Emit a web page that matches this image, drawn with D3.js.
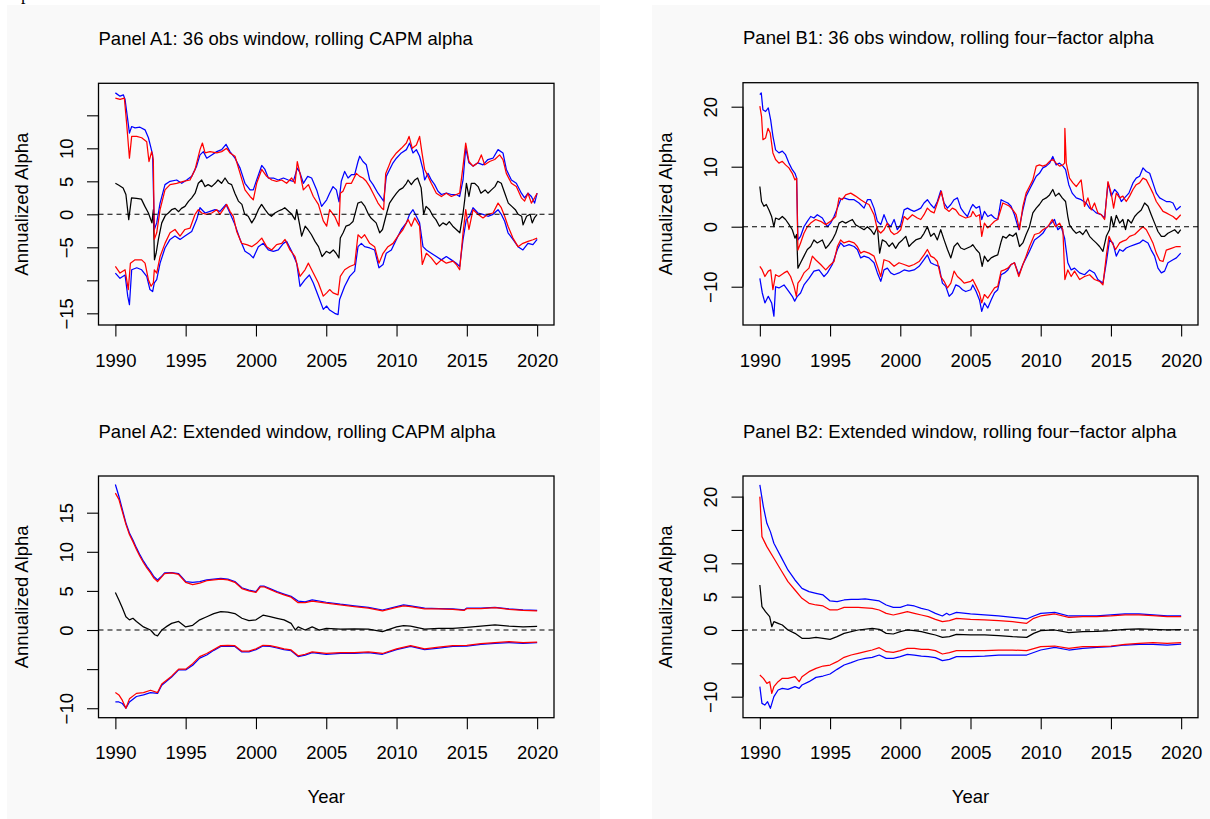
<!DOCTYPE html>
<html>
<head>
<meta charset="utf-8">
<script src="https://cdn.jsdelivr.net/npm/d3@7"></script>
<style>
  html, body { margin: 0; padding: 0; background: #ffffff; }
  svg { display: block; }
</style>
</head>
<body>
<svg id="chart" width="1210" height="819"></svg>
<script>
// ---------------- DATA ----------------
const xTickYears = [1990, 1995, 2000, 2005, 2010, 2015, 2020];
const titles = {
  A1: "Panel A1: 36 obs window, rolling CAPM alpha",
  B1: "Panel B1: 36 obs window, rolling four\u2212factor alpha",
  A2: "Panel A2: Extended window, rolling CAPM alpha",
  B2: "Panel B2: Extended window, rolling four\u2212factor alpha"
};
const yAxisTitle = "Annualized Alpha";
const xAxisTitle = "Year";

const yTicksA1 = [15, 10, 5, 0, -5, -10, -15];
const yLabelsA1 = [10, 5, 0, -5, -15];
const yTicksB1 = [20, 10, 0, -10];
const yLabelsB1 = [20, 10, 0, -10];
const yTicksA2 = [15, 10, 5, 0, -5, -10];
const yLabelsA2 = [15, 10, 5, 0, -10];
const yTicksB2 = [20, 15, 10, 5, 0, -5, -10];
const yLabelsB2 = [20, 10, 5, 0, -10];

// Panel A1 (36 obs window, CAPM) [year, annualized alpha]
const a1Black = [[1990.0,4.7],[1990.25,4.4],[1990.55,4.0],[1990.75,3.0],[1990.95,-0.8],[1991.15,2.5],[1991.5,2.4],[1991.85,2.3],[1992.1,1.2],[1992.35,0.2],[1992.6,-1.3],[1992.7,0.7],[1992.78,-6.9],[1992.9,-5.9],[1993.06,-3.8],[1993.3,-1.3],[1993.55,-0.2],[1993.77,0.2],[1994.0,0.7],[1994.25,0.9],[1994.5,0.4],[1994.7,0.9],[1994.95,1.2],[1995.2,1.95],[1995.43,2.5],[1995.67,3.2],[1995.9,4.7],[1996.14,5.2],[1996.38,4.2],[1996.6,4.5],[1996.85,4.2],[1997.1,4.7],[1997.3,5.2],[1997.55,4.7],[1997.8,5.5],[1998.05,4.7],[1998.27,4.5],[1998.5,3.2],[1998.75,2.0],[1999.0,1.5],[1999.2,0],[1999.45,-0.3],[1999.7,-1.3],[1999.93,-0.5],[2000.17,0.7],[2000.4,1.5],[2000.65,0.7],[2000.9,0],[2001.1,-0.3],[2001.35,0.2],[2001.6,0.5],[2001.83,0.7],[2002.05,1.0],[2002.3,0.5],[2002.55,0],[2002.78,-0.8],[2002.9,0.7],[2003.1,-1.5],[2003.25,-3.3],[2003.5,-1.8],[2003.7,-2.3],[2003.95,-3.1],[2004.2,-4.1],[2004.45,-4.9],[2004.7,-6.4],[2004.9,-5.9],[2005.0,-5.6],[2005.25,-5.9],[2005.5,-5.4],[2005.7,-5.9],[2005.9,-6.6],[2006.0,-3.6],[2006.2,-2.8],[2006.4,-1.8],[2006.65,-1.6],[2006.9,-1.1],[2007.25,1.7],[2007.5,1.9],[2007.75,1.2],[2008.0,0],[2008.2,-0.6],[2008.55,-1.3],[2008.8,-2.8],[2009.0,-2.3],[2009.3,0.2],[2009.5,1.7],[2009.75,2.5],[2010.0,3.2],[2010.2,3.7],[2010.45,4.0],[2010.7,4.7],[2010.82,5.2],[2011.05,4.5],[2011.3,5.2],[2011.5,5.5],[2011.75,4.0],[2011.93,0],[2012.1,1.2],[2012.35,0.7],[2012.6,-0.3],[2012.8,-0.8],[2013.05,-1.8],[2013.3,-1.3],[2013.55,-1.6],[2013.75,-1.1],[2014.0,-1.8],[2014.25,-2.3],[2014.5,-2.8],[2014.72,0],[2014.85,2.2],[2014.97,4.7],[2015.15,2.7],[2015.32,4.7],[2015.55,4.7],[2015.8,4.2],[2016.0,3.2],[2016.3,3.7],[2016.5,3.2],[2016.75,3.7],[2017.0,4.2],[2017.2,5.0],[2017.45,4.7],[2017.7,3.2],[2017.95,1.7],[2018.2,1.2],[2018.45,0.7],[2018.65,0],[2018.9,-0.3],[2019.0,-1.6],[2019.25,-0.3],[2019.5,0],[2019.65,-1.3],[2019.82,-0.5],[2020.0,0]];
const a1BlueUpper = [[1990.0,18.4],[1990.33,17.9],[1990.57,18.1],[1990.69,17.4],[1990.88,14.3],[1991.0,12.3],[1991.16,13.3],[1991.4,13.1],[1991.75,13.2],[1992.11,12.8],[1992.35,11.6],[1992.54,10.0],[1992.65,9.0],[1992.77,-2.3],[1992.94,-1.3],[1993.18,1.7],[1993.53,4.5],[1993.89,5.0],[1994.36,5.2],[1994.72,4.7],[1995.07,5.2],[1995.43,5.75],[1995.78,7.3],[1996.02,9.0],[1996.26,9.5],[1996.5,8.5],[1996.85,9.0],[1997.21,9.5],[1997.56,9.8],[1997.87,10.6],[1998.15,9.5],[1998.51,8.5],[1998.87,7.0],[1999.22,4.7],[1999.58,3.7],[1999.81,3.7],[2000.05,5.2],[2000.41,7.4],[2000.64,6.8],[2000.88,5.5],[2001.24,5.5],[2001.59,5.2],[2001.95,5.5],[2002.3,5.2],[2002.66,5.0],[2002.94,7.0],[2003.13,6.3],[2003.37,4.7],[2003.68,5.75],[2003.96,5.5],[2004.32,3.7],[2004.67,1.2],[2005.03,2.2],[2005.24,3.2],[2005.48,4.2],[2005.72,3.7],[2005.91,1.9],[2006.07,5.0],[2006.31,6.5],[2006.55,5.5],[2006.79,6.0],[2007.02,6.0],[2007.26,8.0],[2007.38,8.8],[2007.61,8.0],[2007.85,7.5],[2008.09,5.2],[2008.33,4.5],[2008.68,3.2],[2008.92,2.5],[2009.08,2.0],[2009.27,5.75],[2009.51,6.8],[2009.75,7.8],[2009.99,8.5],[2010.34,9.3],[2010.7,9.8],[2010.93,10.8],[2011.17,9.3],[2011.41,9.8],[2011.64,8.8],[2011.88,6.8],[2012.0,5.2],[2012.24,6.2],[2012.47,5.2],[2012.71,4.5],[2012.95,3.5],[2013.19,3.0],[2013.54,3.2],[2013.9,3.0],[2014.25,3.0],[2014.49,2.7],[2014.73,5.2],[2014.92,10.0],[2015.15,7.8],[2015.44,7.3],[2015.79,7.8],[2016.15,7.5],[2016.5,8.3],[2016.86,8.5],[2017.22,9.8],[2017.57,9.3],[2017.81,6.8],[2018.17,5.2],[2018.52,4.7],[2018.88,3.2],[2019.11,2.5],[2019.35,3.2],[2019.59,2.7],[2019.82,1.7],[2020.0,3.2]];
const a1RedUpper = [[1990.0,17.6],[1990.33,17.4],[1990.64,17.6],[1990.8,13.8],[1991.0,8.5],[1991.16,11.8],[1991.52,11.8],[1991.87,11.6],[1992.23,11.0],[1992.39,8.0],[1992.58,9.5],[1992.7,8.3],[1992.77,-3.8],[1992.94,-2.8],[1993.18,0.7],[1993.53,3.7],[1993.89,4.5],[1994.36,4.7],[1994.84,5.0],[1995.31,5.2],[1995.67,6.8],[1996.02,9.8],[1996.19,10.8],[1996.38,9.3],[1996.73,9.5],[1997.21,9.3],[1997.56,9.5],[1997.92,10.0],[1998.15,9.3],[1998.51,8.8],[1998.87,6.2],[1999.22,3.7],[1999.58,2.7],[1999.81,2.2],[2000.05,4.7],[2000.41,6.8],[2000.76,5.75],[2001.12,5.2],[2001.47,5.0],[2001.83,5.2],[2002.18,4.7],[2002.54,5.5],[2002.78,4.7],[2002.94,8.0],[2003.13,6.2],[2003.37,3.7],[2003.73,4.5],[2004.08,2.7],[2004.44,1.5],[2004.79,-1.0],[2005.03,-1.8],[2005.24,0.7],[2005.6,-0.3],[2005.91,-1.8],[2006.0,3.2],[2006.19,3.5],[2006.43,4.7],[2006.79,4.7],[2007.14,6.2],[2007.38,5.75],[2007.61,5.5],[2007.85,5.0],[2008.09,4.2],[2008.33,3.2],[2008.68,1.7],[2008.92,1.0],[2009.08,0.7],[2009.23,6.2],[2009.39,7.0],[2009.63,8.3],[2009.99,9.3],[2010.34,10.0],[2010.7,10.8],[2010.89,11.8],[2011.12,10.0],[2011.41,10.5],[2011.64,11.8],[2011.81,9.3],[2012.0,6.8],[2012.24,5.75],[2012.47,4.7],[2012.83,3.2],[2013.19,2.7],[2013.54,3.2],[2013.9,2.7],[2014.25,3.0],[2014.49,3.2],[2014.73,7.3],[2014.92,10.8],[2015.15,8.0],[2015.44,7.3],[2015.79,7.8],[2016.03,9.0],[2016.27,7.5],[2016.62,8.0],[2016.98,8.3],[2017.33,9.0],[2017.57,8.3],[2017.81,6.2],[2018.17,4.7],[2018.52,4.2],[2018.88,2.5],[2019.11,2.0],[2019.35,3.2],[2019.59,1.7],[2019.82,2.5],[2020.0,3.2]];
const a1RedLower = [[1990.0,-7.9],[1990.33,-8.9],[1990.69,-8.4],[1990.92,-11.4],[1991.07,-7.4],[1991.4,-6.9],[1991.87,-6.9],[1992.11,-7.4],[1992.35,-9.9],[1992.54,-10.9],[1992.7,-10.4],[1992.77,-8.4],[1992.94,-8.9],[1993.18,-6.4],[1993.53,-4.4],[1993.89,-2.8],[1994.24,-2.3],[1994.6,-3.3],[1994.95,-2.3],[1995.31,-2.1],[1995.67,0],[1995.9,0.7],[1996.14,0.2],[1996.5,0],[1996.85,0.2],[1997.21,0.7],[1997.44,0],[1997.92,1.5],[1998.15,0.45],[1998.39,-0.3],[1998.63,-2.6],[1998.98,-4.4],[1999.34,-4.6],[1999.7,-4.9],[2000.05,-4.4],[2000.41,-3.6],[2000.76,-4.9],[2001.12,-5.4],[2001.47,-4.6],[2001.83,-4.4],[2002.07,-3.8],[2002.42,-5.4],[2002.78,-6.4],[2003.13,-9.4],[2003.49,-8.4],[2003.73,-7.4],[2004.08,-8.9],[2004.44,-10.4],[2004.79,-12.4],[2005.03,-11.9],[2005.24,-11.4],[2005.48,-11.9],[2005.84,-12.2],[2006.0,-9.4],[2006.31,-8.4],[2006.67,-7.9],[2007.02,-7.6],[2007.26,-3.1],[2007.5,-3.6],[2007.73,-3.1],[2008.09,-4.4],[2008.44,-4.9],[2008.75,-7.4],[2009.04,-5.9],[2009.39,-4.9],[2009.75,-4.4],[2010.1,-3.3],[2010.46,-2.3],[2010.82,-0.8],[2011.05,-1.8],[2011.29,-0.55],[2011.64,-1.8],[2011.83,-7.6],[2012.12,-5.9],[2012.47,-6.6],[2012.83,-7.6],[2013.19,-6.9],[2013.54,-7.4],[2014.02,-7.1],[2014.25,-7.6],[2014.49,-8.4],[2014.73,-2.8],[2014.92,0.7],[2015.15,-2.3],[2015.44,0.7],[2015.79,0],[2016.15,-0.55],[2016.5,0],[2016.86,0.2],[2017.22,1.7],[2017.45,1.0],[2017.69,-0.3],[2017.93,-1.8],[2018.28,-3.6],[2018.64,-4.9],[2018.99,-4.4],[2019.35,-4.1],[2019.7,-3.85],[2020.0,-3.6]];
const a1BlueLower = [[1990.0,-8.9],[1990.33,-9.7],[1990.69,-9.2],[1990.88,-12.4],[1991.0,-13.7],[1991.16,-8.4],[1991.52,-8.1],[1991.87,-8.4],[1992.23,-9.4],[1992.46,-11.4],[1992.65,-11.7],[1992.77,-10.4],[1992.94,-9.9],[1993.18,-7.4],[1993.53,-5.1],[1993.89,-3.8],[1994.24,-3.3],[1994.6,-3.8],[1994.95,-3.3],[1995.43,-2.6],[1995.78,-0.8],[1996.02,1.0],[1996.38,0.2],[1996.73,0.45],[1997.09,0.7],[1997.44,0.45],[1997.87,1.5],[1998.15,0.2],[1998.51,-1.6],[1998.87,-3.8],[1999.22,-5.6],[1999.58,-6.1],[1999.81,-6.6],[2000.17,-4.9],[2000.52,-4.4],[2000.88,-5.4],[2001.24,-5.6],[2001.59,-5.4],[2001.95,-4.4],[2002.18,-4.1],[2002.54,-5.6],[2002.9,-7.4],[2003.13,-10.9],[2003.49,-9.9],[2003.8,-9.2],[2004.08,-10.4],[2004.44,-12.4],[2004.79,-14.4],[2005.03,-13.9],[2005.24,-14.5],[2005.6,-15.0],[2005.84,-15.2],[2005.95,-12.9],[2006.31,-10.9],[2006.67,-9.4],[2007.02,-8.6],[2007.26,-4.9],[2007.5,-4.4],[2007.73,-4.9],[2008.09,-5.1],[2008.44,-5.4],[2008.75,-8.1],[2009.04,-7.6],[2009.27,-5.9],[2009.63,-5.4],[2009.99,-3.8],[2010.34,-2.3],[2010.7,-1.3],[2010.93,0],[2011.17,0.7],[2011.41,-0.3],[2011.64,-1.3],[2011.88,-4.9],[2012.12,-5.4],[2012.47,-5.9],[2012.83,-6.4],[2013.19,-6.9],[2013.54,-6.4],[2013.9,-6.9],[2014.25,-7.4],[2014.49,-7.9],[2014.73,-3.8],[2014.96,-0.8],[2015.2,-0.3],[2015.44,1.0],[2015.79,0.2],[2016.15,0],[2016.5,-0.3],[2016.86,0],[2017.22,0.7],[2017.45,0],[2017.69,-1.05],[2017.93,-2.8],[2018.28,-3.8],[2018.64,-4.9],[2018.99,-5.4],[2019.35,-4.4],[2019.7,-4.6],[2020.0,-3.8]];

// Panel B1 (36 obs window, four-factor)
const b1Black = [[1990.0,6.7],[1990.12,4.2],[1990.29,3.4],[1990.46,3.7],[1990.65,2.8],[1990.84,1.7],[1991.0,0],[1991.12,1.45],[1991.36,1.2],[1991.6,1.7],[1991.83,1.2],[1992.07,0.4],[1992.31,-0.5],[1992.5,-1.9],[1992.62,-1.3],[1992.71,-6.9],[1992.9,-6.0],[1993.14,-4.9],[1993.38,-3.8],[1993.62,-3.3],[1993.85,-2.2],[1994.09,-2.7],[1994.45,-2.2],[1994.69,-3.6],[1994.92,-3.0],[1995.16,-2.2],[1995.4,-1.1],[1995.64,0.6],[1995.87,0.9],[1996.11,0.6],[1996.35,0.9],[1996.59,1.2],[1996.82,0.3],[1997.06,0],[1997.42,-0.5],[1997.66,0],[1997.89,-0.5],[1998.13,-1.3],[1998.37,0],[1998.53,-4.4],[1998.72,-2.2],[1998.96,-2.5],[1999.2,-3.3],[1999.44,-2.7],[1999.67,-3.6],[1999.91,-2.7],[2000.15,-2.2],[2000.39,-1.6],[2000.62,-3.3],[2000.86,-2.7],[2001.1,-2.2],[2001.46,-1.9],[2001.69,-1.1],[2001.93,0],[2002.17,-1.6],[2002.41,-1.1],[2002.64,-2.2],[2002.88,-0.5],[2003.12,-2.2],[2003.36,-3.8],[2003.6,-5.2],[2003.83,-3.3],[2004.07,-2.7],[2004.31,-3.55],[2004.55,-3.8],[2004.78,-3.55],[2005.02,-3.3],[2005.16,-3.0],[2005.4,-3.8],[2005.64,-4.4],[2005.83,-6.6],[2005.99,-4.9],[2006.23,-5.8],[2006.47,-5.2],[2006.71,-4.9],[2006.94,-4.7],[2007.18,-2.5],[2007.3,-1.6],[2007.54,-1.9],[2007.78,-1.3],[2008.01,-1.6],[2008.25,-1.05],[2008.49,-3.3],[2008.73,-2.7],[2008.96,-1.3],[2009.2,0],[2009.44,2.3],[2009.68,3.1],[2009.91,3.7],[2010.15,4.5],[2010.39,4.8],[2010.63,5.3],[2010.86,6.2],[2011.05,5.1],[2011.29,5.6],[2011.53,4.8],[2011.77,4.2],[2011.93,1.7],[2012.05,0.3],[2012.29,-0.5],[2012.53,-1.1],[2012.77,-0.8],[2013.0,-1.3],[2013.24,-0.5],[2013.48,-1.6],[2013.72,-2.2],[2013.95,-2.7],[2014.19,-3.3],[2014.43,-4.1],[2014.67,-1.6],[2014.9,-0.5],[2015.02,1.7],[2015.19,0],[2015.38,1.9],[2015.62,0.6],[2015.85,1.2],[2016.04,-0.5],[2016.21,1.2],[2016.45,0.6],[2016.69,1.7],[2016.92,2.3],[2017.16,2.8],[2017.4,3.95],[2017.64,3.4],[2017.87,2.0],[2018.11,0.6],[2018.35,-0.8],[2018.59,-1.6],[2018.82,-1.6],[2019.06,-1.1],[2019.3,-0.8],[2019.54,-0.5],[2019.78,-1.1],[2019.97,-0.5]];
const b1BlueUpper = [[1990.0,22.0],[1990.1,22.3],[1990.22,19.5],[1990.41,19.2],[1990.6,19.8],[1990.77,17.8],[1990.93,15.1],[1991.12,12.8],[1991.36,12.3],[1991.6,12.6],[1991.83,12.0],[1992.07,10.6],[1992.31,9.5],[1992.5,8.9],[1992.62,8.1],[1992.71,-2.2],[1992.9,-1.6],[1993.14,0],[1993.38,0.9],[1993.62,1.7],[1993.85,1.45],[1994.09,2.0],[1994.45,1.45],[1994.81,0],[1995.04,0.6],[1995.28,1.7],[1995.52,3.1],[1995.75,4.5],[1995.99,4.8],[1996.35,4.5],[1996.71,4.5],[1997.06,3.95],[1997.42,3.1],[1997.66,4.5],[1997.89,4.5],[1998.13,3.1],[1998.37,0.9],[1998.61,0.35],[1998.84,2.0],[1999.08,0.6],[1999.32,0],[1999.56,1.2],[1999.79,-0.5],[2000.03,0.35],[2000.27,2.8],[2000.51,3.1],[2000.74,2.8],[2000.98,2.55],[2001.22,2.8],[2001.46,3.1],[2001.69,3.95],[2001.93,4.5],[2002.17,3.7],[2002.41,3.1],[2002.64,4.2],[2002.88,6.0],[2003.12,3.95],[2003.36,3.1],[2003.6,3.7],[2003.83,4.5],[2004.07,4.8],[2004.31,3.1],[2004.55,2.3],[2004.78,1.7],[2005.02,3.1],[2005.16,3.7],[2005.4,3.1],[2005.64,3.4],[2005.8,1.2],[2005.99,2.55],[2006.23,1.7],[2006.47,2.0],[2006.71,1.45],[2006.94,1.2],[2007.18,4.5],[2007.42,4.2],[2007.66,3.95],[2007.89,3.4],[2008.13,2.0],[2008.44,-0.5],[2008.73,2.8],[2008.96,5.1],[2009.2,6.2],[2009.44,7.3],[2009.68,8.4],[2009.91,8.9],[2010.15,9.8],[2010.39,10.1],[2010.63,10.6],[2010.86,11.7],[2011.1,10.3],[2011.34,10.6],[2011.58,10.1],[2011.77,9.5],[2012.0,7.0],[2012.24,5.6],[2012.53,4.8],[2012.88,4.5],[2013.24,3.95],[2013.48,3.1],[2013.72,2.8],[2013.95,2.3],[2014.31,2.0],[2014.55,1.45],[2014.79,7.3],[2015.02,5.1],[2015.26,6.2],[2015.5,5.6],[2015.74,4.2],[2015.97,4.8],[2016.28,5.6],[2016.57,7.3],[2016.8,8.1],[2017.04,8.4],[2017.28,9.8],[2017.52,9.2],[2017.76,8.9],[2017.99,7.3],[2018.23,5.6],[2018.47,4.8],[2018.71,4.5],[2018.94,4.2],[2019.18,4.2],[2019.42,3.95],[2019.66,2.8],[2019.97,3.4]];
const b1RedUpper = [[1990.0,20.1],[1990.12,18.4],[1990.22,14.5],[1990.41,14.8],[1990.58,16.4],[1990.74,15.6],[1990.93,12.3],[1991.12,11.2],[1991.36,10.6],[1991.6,10.9],[1991.83,10.3],[1992.07,9.8],[1992.31,8.9],[1992.5,7.8],[1992.62,8.1],[1992.71,-3.9],[1992.9,-2.7],[1993.14,-1.1],[1993.38,0],[1993.62,0.6],[1993.97,1.2],[1994.33,0.9],[1994.69,0.35],[1995.04,0.9],[1995.4,1.7],[1995.64,4.8],[1995.87,4.5],[1996.11,5.3],[1996.47,5.6],[1996.82,5.1],[1997.18,4.5],[1997.54,3.95],[1997.77,3.7],[1998.13,2.0],[1998.37,-0.5],[1998.61,-1.05],[1998.84,-0.5],[1999.08,0.6],[1999.32,-0.8],[1999.56,-1.3],[1999.79,-1.05],[2000.03,-0.5],[2000.27,1.7],[2000.51,1.2],[2000.86,2.0],[2001.22,1.45],[2001.46,1.2],[2001.69,2.0],[2001.93,3.1],[2002.17,2.55],[2002.41,2.3],[2002.64,3.95],[2002.93,5.9],[2003.17,3.1],[2003.48,2.55],[2003.71,3.1],[2003.95,2.8],[2004.19,2.0],[2004.43,1.7],[2004.66,1.45],[2005.02,1.7],[2005.16,2.55],[2005.4,1.7],[2005.64,2.0],[2005.8,-1.6],[2005.99,0.6],[2006.23,-0.2],[2006.47,0.35],[2006.71,0.9],[2006.94,1.2],[2007.3,3.95],[2007.54,3.7],[2007.78,3.4],[2008.01,2.8],[2008.25,2.0],[2008.49,-0.5],[2008.73,3.4],[2008.96,5.6],[2009.2,6.7],[2009.44,7.8],[2009.68,10.1],[2009.91,10.3],[2010.15,10.1],[2010.39,10.3],[2010.63,10.9],[2010.86,11.2],[2011.1,10.6],[2011.34,10.1],[2011.58,10.3],[2011.7,10.6],[2011.72,16.4],[2011.82,10.6],[2012.05,8.1],[2012.29,7.3],[2012.53,6.7],[2012.88,7.8],[2013.12,3.4],[2013.36,4.8],[2013.6,2.8],[2013.83,3.95],[2014.07,2.3],[2014.31,2.0],[2014.55,1.2],[2014.79,7.5],[2015.02,5.6],[2015.19,3.1],[2015.38,5.6],[2015.62,4.8],[2015.85,5.1],[2016.09,4.2],[2016.33,5.1],[2016.57,6.2],[2016.8,7.0],[2017.04,7.3],[2017.28,8.1],[2017.52,7.8],[2017.76,6.7],[2017.99,5.6],[2018.23,4.2],[2018.47,3.4],[2018.71,2.55],[2018.94,2.3],[2019.18,2.0],[2019.42,1.7],[2019.66,1.2],[2019.97,2.0]];
const b1BlueLower = [[1990.0,-8.6],[1990.17,-11.0],[1990.36,-12.7],[1990.6,-11.6],[1990.84,-12.7],[1991.0,-14.9],[1991.12,-10.0],[1991.36,-10.2],[1991.72,-9.7],[1992.07,-10.8],[1992.31,-11.6],[1992.48,-12.4],[1992.67,-11.6],[1992.9,-11.05],[1993.14,-9.7],[1993.5,-8.6],[1993.85,-7.4],[1994.21,-7.2],[1994.57,-8.3],[1994.81,-7.7],[1995.16,-6.3],[1995.52,-3.8],[1995.75,-2.7],[1995.99,-3.3],[1996.35,-3.0],[1996.71,-3.3],[1996.94,-3.8],[1997.18,-5.2],[1997.42,-4.9],[1997.77,-5.2],[1998.13,-6.0],[1998.37,-7.7],[1998.61,-9.1],[1998.84,-7.2],[1999.08,-6.9],[1999.32,-7.7],[1999.56,-8.0],[1999.91,-7.7],[2000.27,-7.2],[2000.62,-7.4],[2000.98,-7.2],[2001.34,-6.6],[2001.69,-5.5],[2001.93,-4.7],[2002.17,-6.0],[2002.41,-6.3],[2002.76,-6.6],[2003.0,-9.4],[2003.24,-9.95],[2003.48,-11.6],[2003.71,-11.05],[2003.95,-9.7],[2004.19,-9.95],[2004.43,-10.5],[2004.66,-10.8],[2005.02,-10.5],[2005.16,-9.7],[2005.4,-10.8],[2005.64,-12.2],[2005.8,-14.1],[2005.99,-12.7],[2006.23,-13.55],[2006.47,-12.2],[2006.71,-11.0],[2006.94,-10.5],[2007.18,-8.0],[2007.42,-7.7],[2007.66,-7.2],[2007.89,-6.3],[2008.13,-6.0],[2008.44,-8.0],[2008.73,-6.3],[2008.96,-5.2],[2009.2,-4.1],[2009.56,-2.2],[2009.91,-1.6],[2010.15,-1.1],[2010.39,-0.2],[2010.75,0.6],[2010.98,1.2],[2011.22,-0.5],[2011.46,0],[2011.7,-1.9],[2011.93,-6.0],[2012.17,-7.2],[2012.41,-6.9],[2012.77,-7.7],[2013.12,-8.0],[2013.48,-7.2],[2013.83,-7.7],[2014.07,-8.8],[2014.43,-9.4],[2014.67,-6.0],[2014.9,-2.2],[2015.14,-2.7],[2015.38,-4.9],[2015.62,-3.8],[2015.85,-4.1],[2016.09,-3.55],[2016.33,-3.3],[2016.69,-3.0],[2017.04,-2.7],[2017.28,-2.2],[2017.64,-2.7],[2017.87,-3.9],[2018.11,-4.9],[2018.35,-6.9],[2018.59,-7.7],[2018.82,-7.4],[2019.06,-6.0],[2019.42,-5.5],[2019.66,-5.2],[2019.97,-4.4]];
const b1RedLower = [[1990.0,-6.6],[1990.17,-7.2],[1990.36,-8.3],[1990.6,-7.4],[1990.77,-7.2],[1990.93,-10.5],[1991.12,-8.0],[1991.36,-8.3],[1991.72,-7.7],[1991.95,-7.4],[1992.19,-8.3],[1992.43,-9.9],[1992.6,-11.6],[1992.71,-9.4],[1992.9,-8.8],[1993.14,-7.7],[1993.5,-6.9],[1993.74,-4.9],[1993.97,-5.5],[1994.33,-6.3],[1994.69,-7.2],[1994.92,-6.6],[1995.28,-5.8],[1995.52,-3.3],[1995.75,-2.2],[1995.99,-2.7],[1996.35,-2.4],[1996.71,-2.7],[1996.94,-3.3],[1997.18,-4.4],[1997.42,-4.1],[1997.77,-4.4],[1998.13,-4.9],[1998.37,-6.6],[1998.61,-8.3],[1998.84,-5.5],[1999.2,-5.8],[1999.56,-6.6],[1999.91,-6.0],[2000.27,-6.3],[2000.62,-6.6],[2000.98,-6.3],[2001.34,-5.8],[2001.69,-4.7],[2001.93,-3.8],[2002.17,-4.9],[2002.41,-5.2],[2002.64,-5.8],[2002.88,-8.3],[2003.12,-9.1],[2003.36,-10.2],[2003.6,-9.4],[2003.83,-7.4],[2004.07,-8.3],[2004.31,-8.8],[2004.55,-9.4],[2005.02,-9.1],[2005.16,-8.8],[2005.4,-9.9],[2005.64,-11.1],[2005.8,-12.7],[2005.99,-11.3],[2006.23,-11.9],[2006.47,-11.05],[2006.71,-10.2],[2006.94,-9.95],[2007.18,-7.4],[2007.42,-7.2],[2007.66,-6.9],[2007.89,-6.3],[2008.13,-6.0],[2008.44,-8.3],[2008.73,-6.3],[2008.96,-4.9],[2009.2,-3.3],[2009.56,-1.3],[2009.91,-1.05],[2010.15,-0.5],[2010.51,0],[2010.82,1.2],[2011.05,0],[2011.34,0.6],[2011.58,-0.5],[2011.72,-8.8],[2011.93,-7.2],[2012.17,-8.3],[2012.41,-7.4],[2012.77,-8.8],[2013.12,-8.3],[2013.48,-8.0],[2013.83,-8.8],[2014.19,-9.1],[2014.43,-9.7],[2014.67,-4.9],[2014.86,-1.6],[2015.09,-2.7],[2015.33,-3.8],[2015.62,-2.7],[2015.85,-2.4],[2016.09,-2.2],[2016.33,-1.6],[2016.69,-1.3],[2017.04,-0.5],[2017.28,0],[2017.52,-0.5],[2017.76,-1.6],[2017.99,-2.7],[2018.23,-4.4],[2018.47,-5.6],[2018.71,-5.8],[2018.94,-3.9],[2019.3,-3.6],[2019.66,-3.3],[2019.97,-3.3]];

// Panel A2 (extended window, CAPM)
const a2Black = [[1990.0,4.8],[1990.25,3.85],[1990.5,2.8],[1990.75,1.7],[1991.0,1.3],[1991.25,1.5],[1991.5,1.1],[1992.0,0.4],[1992.5,0],[1992.8,-0.6],[1993.0,-0.75],[1993.3,0],[1993.6,0.4],[1994.0,0.85],[1994.5,1.1],[1995.0,0.4],[1995.5,0.6],[1996.0,1.3],[1996.5,1.7],[1997.0,2.1],[1997.5,2.35],[1998.0,2.3],[1998.5,2.1],[1999.0,1.5],[1999.5,1.2],[2000.0,1.3],[2000.5,1.9],[2001.0,1.7],[2001.5,1.5],[2002.0,1.3],[2002.5,0.85],[2002.8,0],[2003.0,0.4],[2003.5,0],[2004.0,0.4],[2004.5,0],[2005.0,0.2],[2006.0,0.1],[2007.0,0.15],[2008.0,0.1],[2009.0,-0.2],[2010.0,0.4],[2010.5,0.55],[2011.0,0.5],[2012.0,0.1],[2013.0,0.2],[2014.0,0.2],[2015.0,0.35],[2016.0,0.5],[2017.0,0.65],[2018.0,0.5],[2019.0,0.4],[2020.0,0.45]];
const a2BlueUpper = [[1990.0,18.6],[1990.25,17.1],[1990.5,15.4],[1990.75,13.7],[1991.0,12.4],[1991.25,11.5],[1991.5,10.5],[1991.75,9.6],[1992.0,8.8],[1992.25,8.1],[1992.5,7.5],[1992.75,6.8],[1993.0,6.4],[1993.25,6.8],[1993.5,7.3],[1994.0,7.35],[1994.5,7.2],[1995.0,6.2],[1995.5,6.1],[1996.0,6.2],[1996.5,6.4],[1997.0,6.5],[1997.5,6.6],[1998.0,6.5],[1998.5,6.2],[1999.0,5.4],[1999.5,5.1],[2000.0,4.9],[2000.3,5.6],[2000.6,5.6],[2001.0,5.3],[2001.5,4.9],[2002.0,4.6],[2002.5,4.3],[2003.0,3.7],[2003.5,3.6],[2004.0,3.85],[2005.0,3.55],[2006.0,3.3],[2007.0,3.1],[2008.0,2.9],[2009.0,2.56],[2010.0,3.0],[2010.5,3.2],[2011.0,3.1],[2012.0,2.8],[2013.0,2.75],[2014.0,2.7],[2014.8,2.56],[2015.0,2.8],[2016.0,2.8],[2017.0,2.9],[2018.0,2.7],[2019.0,2.56],[2020.0,2.5]];
const a2RedUpper = [[1990.0,17.5],[1990.25,16.7],[1990.5,15.1],[1990.75,13.5],[1991.0,12.2],[1991.25,11.3],[1991.5,10.3],[1991.75,9.4],[1992.0,8.6],[1992.25,7.9],[1992.5,7.3],[1992.75,6.6],[1993.0,6.2],[1993.25,6.7],[1993.5,7.2],[1994.0,7.3],[1994.5,7.1],[1995.0,6.1],[1995.5,5.8],[1996.0,6.0],[1996.5,6.3],[1997.0,6.4],[1997.5,6.5],[1998.0,6.4],[1998.5,6.1],[1999.0,5.3],[1999.5,5.0],[2000.0,4.8],[2000.3,5.5],[2000.6,5.5],[2001.0,5.2],[2001.5,4.8],[2002.0,4.5],[2002.5,4.2],[2003.0,3.5],[2003.5,3.5],[2004.0,3.7],[2005.0,3.45],[2006.0,3.2],[2007.0,3.0],[2008.0,2.8],[2009.0,2.45],[2010.0,2.9],[2010.5,3.1],[2011.0,3.0],[2012.0,2.7],[2013.0,2.7],[2014.0,2.65],[2014.8,2.5],[2015.0,2.75],[2016.0,2.75],[2017.0,2.85],[2018.0,2.65],[2019.0,2.5],[2020.0,2.45]];
const a2BlueLower = [[1990.0,-9.2],[1990.25,-9.2],[1990.5,-9.4],[1990.75,-10.0],[1991.0,-9.2],[1991.5,-8.5],[1992.0,-8.3],[1992.5,-8.0],[1993.0,-8.1],[1993.3,-7.05],[1994.0,-6.0],[1994.5,-5.1],[1995.0,-5.1],[1995.5,-4.5],[1996.0,-3.6],[1996.5,-3.2],[1997.0,-2.6],[1997.5,-2.1],[1998.0,-2.05],[1998.5,-2.1],[1999.0,-2.8],[1999.5,-2.8],[2000.0,-2.5],[2000.5,-2.05],[2001.0,-2.1],[2001.5,-2.3],[2002.0,-2.5],[2002.5,-2.65],[2003.0,-3.4],[2003.5,-3.2],[2004.0,-2.9],[2005.0,-3.1],[2006.0,-3.0],[2007.0,-3.0],[2008.0,-2.9],[2009.0,-3.1],[2010.0,-2.5],[2011.0,-2.1],[2012.0,-2.5],[2013.0,-2.3],[2014.0,-2.1],[2015.0,-2.05],[2016.0,-1.85],[2017.0,-1.7],[2018.0,-1.6],[2019.0,-1.7],[2020.0,-1.6]];
const a2RedLower = [[1990.0,-8.0],[1990.25,-8.3],[1990.5,-9.0],[1990.75,-10.0],[1991.0,-8.8],[1991.5,-8.1],[1992.0,-8.0],[1992.5,-7.7],[1993.0,-8.0],[1993.3,-6.9],[1994.0,-5.9],[1994.5,-5.0],[1995.0,-5.0],[1995.5,-4.3],[1996.0,-3.4],[1996.5,-3.0],[1997.0,-2.5],[1997.5,-2.0],[1998.0,-1.95],[1998.5,-2.0],[1999.0,-2.7],[1999.5,-2.7],[2000.0,-2.4],[2000.5,-1.95],[2001.0,-2.0],[2001.5,-2.2],[2002.0,-2.4],[2002.5,-2.55],[2003.0,-3.3],[2003.5,-3.1],[2004.0,-2.8],[2005.0,-3.0],[2006.0,-2.9],[2007.0,-2.9],[2008.0,-2.8],[2009.0,-3.0],[2010.0,-2.4],[2011.0,-2.0],[2012.0,-2.4],[2013.0,-2.2],[2014.0,-2.0],[2015.0,-1.95],[2016.0,-1.75],[2017.0,-1.6],[2018.0,-1.5],[2019.0,-1.6],[2020.0,-1.55]];

// Panel B2 (extended window, four-factor)
const b2Black = [[1990.0,6.75],[1990.15,3.5],[1990.4,2.75],[1990.7,2.0],[1990.85,0.5],[1991.0,1.25],[1991.3,1.0],[1991.6,0.75],[1992.0,0],[1992.5,-0.5],[1993.0,-1.25],[1993.5,-1.25],[1994.0,-1.1],[1994.5,-1.25],[1995.0,-1.4],[1995.5,-1.0],[1996.0,-0.5],[1997.0,0],[1998.0,0.25],[1998.5,0.1],[1999.0,-0.5],[1999.5,-0.6],[2000.0,-0.25],[2000.5,0],[2001.0,-0.1],[2001.5,-0.25],[2002.0,-0.5],[2002.5,-0.75],[2003.0,-1.1],[2003.5,-1.0],[2004.0,-0.65],[2005.0,-0.75],[2006.0,-0.75],[2007.0,-0.85],[2008.0,-1.0],[2009.0,-1.1],[2009.5,-0.5],[2010.0,-0.1],[2011.0,0],[2012.0,-0.4],[2013.0,-0.25],[2014.0,-0.2],[2015.0,-0.1],[2016.0,0.1],[2017.0,0.15],[2018.0,0.1],[2019.0,0],[2020.0,0.05]];
const b2BlueUpper = [[1990.0,21.75],[1990.25,18.5],[1990.5,16.0],[1990.75,14.75],[1991.0,13.0],[1991.25,12.0],[1991.5,11.0],[1992.0,9.0],[1992.5,7.5],[1993.0,6.25],[1993.5,5.75],[1994.0,5.5],[1994.5,5.25],[1995.0,4.35],[1995.5,4.25],[1996.0,4.5],[1996.5,4.6],[1997.0,4.6],[1997.5,4.65],[1998.0,4.5],[1998.5,4.35],[1999.0,3.75],[1999.5,3.4],[2000.0,3.4],[2000.5,3.75],[2001.0,3.6],[2001.5,3.25],[2002.0,3.0],[2002.5,2.5],[2003.0,2.1],[2003.3,2.5],[2003.5,2.25],[2004.0,2.65],[2005.0,2.4],[2006.0,2.25],[2007.0,2.1],[2008.0,1.9],[2009.0,1.65],[2009.5,2.1],[2010.0,2.5],[2011.0,2.65],[2012.0,2.1],[2013.0,2.1],[2014.0,2.1],[2015.0,2.25],[2016.0,2.4],[2017.0,2.4],[2018.0,2.25],[2019.0,2.1],[2020.0,2.1]];
const b2RedUpper = [[1990.0,20.0],[1990.15,14.0],[1990.5,12.5],[1991.0,10.75],[1991.5,9.0],[1992.0,7.25],[1992.5,6.0],[1993.0,4.75],[1993.5,4.0],[1994.0,3.75],[1994.5,3.6],[1995.0,3.0],[1995.5,3.0],[1996.0,3.4],[1997.0,3.4],[1998.0,3.25],[1998.5,3.0],[1999.0,2.5],[1999.5,2.25],[2000.0,2.5],[2000.5,2.75],[2001.0,2.5],[2001.5,2.25],[2002.0,2.0],[2002.5,1.6],[2003.0,1.25],[2003.5,1.4],[2004.0,1.75],[2005.0,1.6],[2006.0,1.5],[2007.0,1.4],[2008.0,1.25],[2009.0,1.0],[2009.5,1.75],[2010.0,2.1],[2011.0,2.4],[2012.0,1.9],[2013.0,2.0],[2014.0,2.0],[2015.0,2.1],[2016.0,2.25],[2017.0,2.25],[2018.0,2.15],[2019.0,2.0],[2020.0,2.0]];
const b2BlueLower = [[1990.0,-8.5],[1990.15,-11.0],[1990.35,-11.25],[1990.55,-10.75],[1990.75,-11.75],[1991.0,-10.0],[1991.3,-9.0],[1991.6,-8.75],[1992.0,-8.9],[1992.5,-8.5],[1992.8,-8.75],[1993.0,-8.25],[1993.5,-7.75],[1994.0,-7.1],[1994.5,-6.9],[1995.0,-6.6],[1995.5,-5.9],[1996.0,-5.25],[1996.5,-4.9],[1997.0,-4.5],[1997.5,-4.25],[1998.0,-4.1],[1998.5,-3.75],[1999.0,-4.25],[1999.5,-4.25],[2000.0,-4.0],[2000.5,-3.65],[2001.0,-3.75],[2001.5,-3.9],[2002.0,-4.0],[2002.5,-4.15],[2003.0,-4.6],[2003.5,-4.4],[2004.0,-4.0],[2005.0,-4.0],[2006.0,-3.9],[2007.0,-3.75],[2008.0,-3.75],[2009.0,-3.75],[2010.0,-3.0],[2011.0,-2.6],[2012.0,-3.0],[2013.0,-2.75],[2014.0,-2.6],[2015.0,-2.5],[2016.0,-2.25],[2017.0,-2.15],[2018.0,-2.15],[2019.0,-2.25],[2020.0,-2.1]];
const b2RedLower = [[1990.0,-6.75],[1990.25,-7.25],[1990.5,-8.0],[1990.7,-7.75],[1990.85,-9.5],[1991.0,-8.5],[1991.3,-7.75],[1991.6,-7.25],[1992.0,-7.25],[1992.5,-7.0],[1992.8,-7.75],[1993.0,-7.0],[1993.5,-6.25],[1994.0,-5.75],[1994.5,-5.4],[1995.0,-5.25],[1995.5,-4.75],[1996.0,-4.1],[1996.5,-3.75],[1997.0,-3.5],[1997.5,-3.25],[1998.0,-3.0],[1998.5,-2.65],[1999.0,-3.25],[1999.5,-3.35],[2000.0,-3.1],[2000.5,-2.75],[2001.0,-2.75],[2001.5,-2.9],[2002.0,-2.9],[2002.5,-3.1],[2003.0,-3.6],[2003.5,-3.4],[2004.0,-3.1],[2005.0,-3.1],[2006.0,-3.1],[2007.0,-3.0],[2008.0,-3.0],[2009.0,-3.1],[2010.0,-2.5],[2011.0,-2.4],[2012.0,-2.75],[2013.0,-2.5],[2014.0,-2.5],[2015.0,-2.4],[2016.0,-2.15],[2017.0,-2.0],[2018.0,-1.9],[2019.0,-2.0],[2020.0,-1.9]];

// ---------------- LAYOUT ----------------
const FONT = '"Liberation Sans", Arial, Helvetica, sans-serif';
const FS = 18.5;
const xDomain = [1988.8, 2021.2];

const panels = [
  { key: "A1", box: {l: 98.5, r: 554, t: 83.3, b: 325}, yDomain: [-16.77, 19.85],
    yTicks: yTicksA1, yLabels: yLabelsA1, xTitle: false,
    black: a1Black, blueU: a1BlueUpper, blueL: a1BlueLower, redU: a1RedUpper, redL: a1RedLower },
  { key: "B1", box: {l: 743, r: 1198, t: 82.7, b: 325}, yDomain: [-16.38, 24.0],
    yTicks: yTicksB1, yLabels: yLabelsB1, xTitle: false,
    black: b1Black, blueU: b1BlueUpper, blueL: b1BlueLower, redU: b1RedUpper, redL: b1RedLower },
  { key: "A2", box: {l: 98.5, r: 554, t: 476, b: 717.7}, yDomain: [-11.21, 19.69],
    yTicks: yTicksA2, yLabels: yLabelsA2, xTitle: true,
    black: a2Black, blueU: a2BlueUpper, blueL: a2BlueLower, redU: a2RedUpper, redL: a2RedLower },
  { key: "B2", box: {l: 743, r: 1198, t: 476, b: 717.7}, yDomain: [-13.15, 23.09],
    yTicks: yTicksB2, yLabels: yLabelsB2, xTitle: true,
    black: b2Black, blueU: b2BlueUpper, blueL: b2BlueLower, redU: b2RedUpper, redL: b2RedLower }
];

const svg = d3.select("#chart");

// panel backgrounds
svg.append("rect").attr("x", 7).attr("y", 5).attr("width", 593).attr("height", 814).attr("fill", "#f9f9f9");
svg.append("rect").attr("x", 652).attr("y", 5).attr("width", 558).attr("height", 814).attr("fill", "#f9f9f9");

// glyph fragment visible at the top-left corner of the reference
svg.append("text").attr("x", 21).attr("y", 0.2)
  .attr("font-family", '"Liberation Serif", "Times New Roman", serif')
  .attr("font-size", 18).attr("fill", "#000").text("p");

panels.forEach(p => {
  const g = svg.append("g");
  const b = p.box;
  const x = d3.scaleLinear().domain(xDomain).range([b.l, b.r]);
  const y = d3.scaleLinear().domain(p.yDomain).range([b.b, b.t]);

  const clipId = "clip" + p.key;
  g.append("clipPath").attr("id", clipId).append("rect")
    .attr("x", b.l).attr("y", b.t).attr("width", b.r - b.l).attr("height", b.b - b.t);

  const line = d3.line().x(d => x(d[0])).y(d => y(d[1]));
  const lg = g.append("g").attr("clip-path", `url(#${clipId})`);
  const draw = (data, color) => lg.append("path").datum(data)
    .attr("d", line).attr("fill", "none").attr("stroke", color)
    .attr("stroke-width", 1.25).attr("stroke-linejoin", "round");
  draw(p.black, "#000000");
  draw(p.blueU, "#0000ff");
  draw(p.blueL, "#0000ff");
  draw(p.redU, "#ff0000");
  draw(p.redL, "#ff0000");

  // dashed zero line
  lg.append("line").attr("x1", b.l).attr("x2", b.r).attr("y1", y(0)).attr("y2", y(0))
    .attr("stroke", "#000").attr("stroke-width", 1.1).attr("stroke-dasharray", "5,4");

  // box
  g.append("rect").attr("x", b.l).attr("y", b.t).attr("width", b.r - b.l).attr("height", b.b - b.t)
    .attr("fill", "none").attr("stroke", "#000").attr("stroke-width", 1.3);

  // x axis
  const xAxis = d3.axisBottom(x).tickValues(xTickYears).tickSize(11.5).tickPadding(12).tickFormat(d3.format("d"));
  const xg = g.append("g").attr("transform", `translate(0,${b.b})`).call(xAxis);
  xg.select(".domain").attr("d", `M${x(xTickYears[0])},0H${x(xTickYears[xTickYears.length - 1])}`)
    .attr("stroke", "#000").attr("stroke-width", 1.1);
  xg.selectAll(".tick line").attr("stroke", "#000").attr("stroke-width", 1.1);
  xg.selectAll(".tick text").attr("font-family", FONT).attr("font-size", FS).attr("fill", "#000")
    .attr("dy", null).attr("y", 41.5);

  // y axis
  const yAxis = d3.axisLeft(y).tickValues(p.yTicks).tickSize(11.5)
    .tickFormat(d => p.yLabels.includes(d) ? (d < 0 ? "\u2212" + Math.abs(d) : String(d)) : "");
  const yg = g.append("g").attr("transform", `translate(${b.l},0)`).call(yAxis);
  const yt = p.yTicks;
  yg.select(".domain").attr("d", `M0,${y(d3.max(yt))}V${y(d3.min(yt))}`)
    .attr("stroke", "#000").attr("stroke-width", 1.1);
  yg.selectAll(".tick line").attr("stroke", "#000").attr("stroke-width", 1.1);
  yg.selectAll(".tick text").attr("font-family", FONT).attr("font-size", FS).attr("fill", "#000")
    .attr("x", null).attr("dy", null)
    .attr("transform", "translate(-25.8,0) rotate(-90)")
    .attr("text-anchor", "middle");

  // title
  g.append("text").attr("x", b.l).attr("y", b.t - 38.5)
    .attr("font-family", FONT).attr("font-size", FS).attr("fill", "#000")
    .text(titles[p.key]);

  // y axis title
  g.append("text")
    .attr("transform", `translate(${b.l - 71},${(b.t + b.b) / 2}) rotate(-90)`)
    .attr("text-anchor", "middle")
    .attr("font-family", FONT).attr("font-size", FS).attr("fill", "#000")
    .text(yAxisTitle);

  if (p.xTitle) {
    g.append("text").attr("x", (b.l + b.r) / 2).attr("y", 803)
      .attr("text-anchor", "middle")
      .attr("font-family", FONT).attr("font-size", FS).attr("fill", "#000")
      .text(xAxisTitle);
  }
});
</script>
</body>
</html>
